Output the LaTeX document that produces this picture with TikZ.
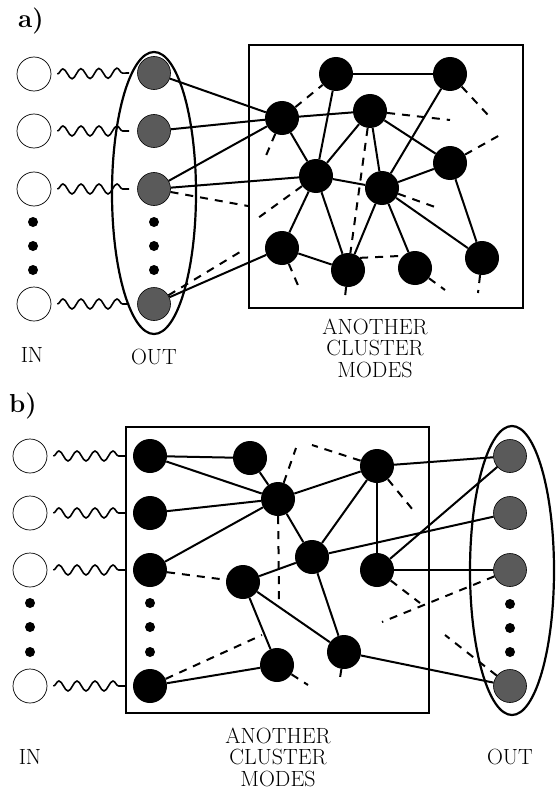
\documentclass[tikz,border=0pt]{standalone}
\usetikzlibrary{decorations.pathmorphing,shapes.geometric}
\definecolor{outgray}{RGB}{90,90,90}
\tikzset{
  innode/.style={circle, draw=black, line width=0.7pt, fill=white, minimum size=34pt, inner sep=0pt},
  outnode/.style={circle, draw=black, line width=0.6pt, fill=outgray, minimum size=33pt, inner sep=0pt},
  blknode/.style={circle, fill=black, minimum size=34pt, inner sep=0pt},
  dotnode/.style={circle, fill=black, minimum size=10pt, inner sep=0pt},
  edge/.style={line width=2pt},
  dedge/.style={line width=2pt, dash pattern=on 8pt off 7pt},
  wave/.style={decorate, decoration={snake, segment length=18pt, amplitude=5pt}, line width=1.6pt},
  frame/.style={draw=black, line width=2.2pt, inner sep=0pt},
  lbl/.style={font=\fontsize{22}{21.5}\selectfont, align=center, inner sep=0pt},
  partlbl/.style={font=\fontsize{26}{26}\selectfont\bfseries, inner sep=0pt}
}
\begin{document}
\begin{tikzpicture}[x=1pt,y=-1pt]
\useasboundingbox (0,0) rectangle (555,789);

% ================= part a =================
\node[partlbl] (la) at (31,21) {a)};
\node[frame, rectangle, minimum width=274pt, minimum height=263pt] (boxa) at (386,176.5) {};
\node[frame, ellipse, minimum width=84pt, minimum height=282pt] (ella) at (154,193) {};

\node[innode] (ia1) at (34,74) {};
\node[innode] (ia2) at (34,131) {};
\node[innode] (ia3) at (34,189) {};
\node[innode] (ia4) at (34,304) {};
\node[dotnode] (ida1) at (33,222) {};
\node[dotnode] (ida2) at (33,246) {};
\node[dotnode] (ida3) at (33,270) {};

\node[outnode] (oa1) at (154,73) {};
\node[outnode] (oa2) at (154,131) {};
\node[outnode] (oa3) at (154,189) {};
\node[outnode] (oa4) at (154,304) {};
\node[dotnode] (oda1) at (154,222) {};
\node[dotnode] (oda2) at (154,246) {};
\node[dotnode] (oda3) at (154,270) {};

\node[blknode] (a1) at (336,74) {};
\node[blknode] (a2) at (450,74) {};
\node[blknode] (a3) at (282,118) {};
\node[blknode] (a4) at (370,111) {};
\node[blknode] (a5) at (450,163) {};
\node[blknode] (a6) at (316,176) {};
\node[blknode] (a7) at (382,188) {};
\node[blknode] (a8) at (282,248) {};
\node[blknode] (a9) at (348,270) {};
\node[blknode] (a10) at (415,268) {};
\node[blknode] (a11) at (482,258) {};

\foreach \i in {1,2,3,4}
  \draw[wave] ([xshift=6pt]ia\i.east) -- ([xshift=-8pt]oa\i.west);

\foreach \p/\q in {a1/a2,a1/a6,a3/a4,a3/a6,a4/a6,a4/a7,a4/a5,a2/a7,a6/a7,a5/a7,a6/a8,a6/a9,a7/a9,a7/a10,a7/a11,a5/a11,a8/a9,oa1/a3,oa2/a3,oa3/a3,oa3/a6,oa4/a8}
  \draw[edge] (\p) -- (\q);

\draw[dedge] (a3) -- (a1);
\draw[dedge] (a4) -- (a9);
\draw[dedge] (a9.north east) -- (a10.north west);

\coordinate (ea3) at (265,158);
\coordinate (ea4) at (450,120);
\coordinate (ea2) at (488,115);
\coordinate (ea5) at (500,135);
\coordinate (ea7) at (435,207);
\coordinate (ea8) at (300,290);
\coordinate (ea9) at (345,297);
\coordinate (ea10) at (445,290);
\coordinate (ea11) at (478,293);
\coordinate (eoa3) at (248,206);
\coordinate (ea6) at (258,218);
\coordinate (eoa4) at (240,252);
\foreach \p/\q in {a3/ea3,a4/ea4,a2/ea2,a5/ea5,a7/ea7,a8/ea8,a9/ea9,a10/ea10,a11/ea11,oa3/eoa3,a6/ea6,oa4/eoa4}
  \draw[dedge] (\p) -- (\q);

\node[lbl] (inA) at (32,355) {IN};
\node[lbl] (outA) at (154,357) {OUT};
\node[lbl] (acA) at (375,348) {ANOTHER\\CLUSTER\\MODES};

% ================= part b =================
\node[partlbl] (lb) at (23,406) {b)};
\node[frame, rectangle, minimum width=303pt, minimum height=286pt] (boxb) at (277.5,570) {};
\node[frame, ellipse, minimum width=84pt, minimum height=289pt] (ellb) at (512,570.5) {};

\node[innode] (ib1) at (30,456) {};
\node[innode] (ib2) at (30,513) {};
\node[innode] (ib3) at (30,570) {};
\node[innode] (ib4) at (30,686) {};
\node[dotnode] (idb1) at (30,603) {};
\node[dotnode] (idb2) at (30,627) {};
\node[dotnode] (idb3) at (30,652) {};

\node[blknode] (l1) at (150,456) {};
\node[blknode] (l2) at (150,513) {};
\node[blknode] (l3) at (150,570) {};
\node[blknode] (l4) at (150,686) {};
\node[dotnode] (ldb1) at (150,603) {};
\node[dotnode] (ldb2) at (150,627) {};
\node[dotnode] (ldb3) at (150,652) {};

\node[blknode] (b1) at (250,458) {};
\node[blknode] (b2) at (278,499) {};
\node[blknode] (b3) at (243,582) {};
\node[blknode] (b4) at (277,665) {};
\node[blknode] (b5) at (377,466) {};
\node[blknode] (b6) at (312,557) {};
\node[blknode] (b7) at (377,570) {};
\node[blknode] (b8) at (344,652) {};

\node[outnode] (r1) at (510,456) {};
\node[outnode] (r2) at (510,513) {};
\node[outnode] (r3) at (510,570) {};
\node[outnode] (r4) at (510,686) {};
\node[dotnode] (rdb1) at (510,604) {};
\node[dotnode] (rdb2) at (510,628) {};
\node[dotnode] (rdb3) at (510,652) {};

\foreach \i in {1,2,3,4}
  \draw[wave] ([xshift=6pt]ib\i.east) -- ([xshift=-8pt]l\i.west);

\foreach \p/\q in {l1/b1,l1/b2,l2/b2,l3/b2,l4/b4,b1/b2,b2/b5,b2/b6,b5/b6,b5/b7,b5/r1,b6/r2,b7/r1,b7/r3,b3/b6,b3/b4,b3/b8,b6/b8,b8/r4}
  \draw[edge] (\p) -- (\q);

\draw[dedge] (l3) -- (b3);

\coordinate (eb2a) at (279,600);
\coordinate (eb2b) at (296,448);
\coordinate (eb5a) at (312,445);
\coordinate (eb5b) at (413,510);
\coordinate (eb7) at (420,603);
\coordinate (er3) at (382,622);
\coordinate (er4) at (445,635);
\coordinate (eb8) at (340,678);
\coordinate (eb4) at (308,685);
\coordinate (el4) at (262,635);
\foreach \p/\q in {b2/eb2a,b2/eb2b,b5/eb5a,b5/eb5b,b7/eb7,r3/er3,r4/er4,b8/eb8,b4/eb4,l4/el4}
  \draw[dedge] (\p) -- (\q);

\node[lbl] (inB) at (30,757) {IN};
\node[lbl] (outB) at (510,757) {OUT};
\node[lbl] (acB) at (278,757) {ANOTHER\\CLUSTER\\MODES};
\end{tikzpicture}
\end{document}
